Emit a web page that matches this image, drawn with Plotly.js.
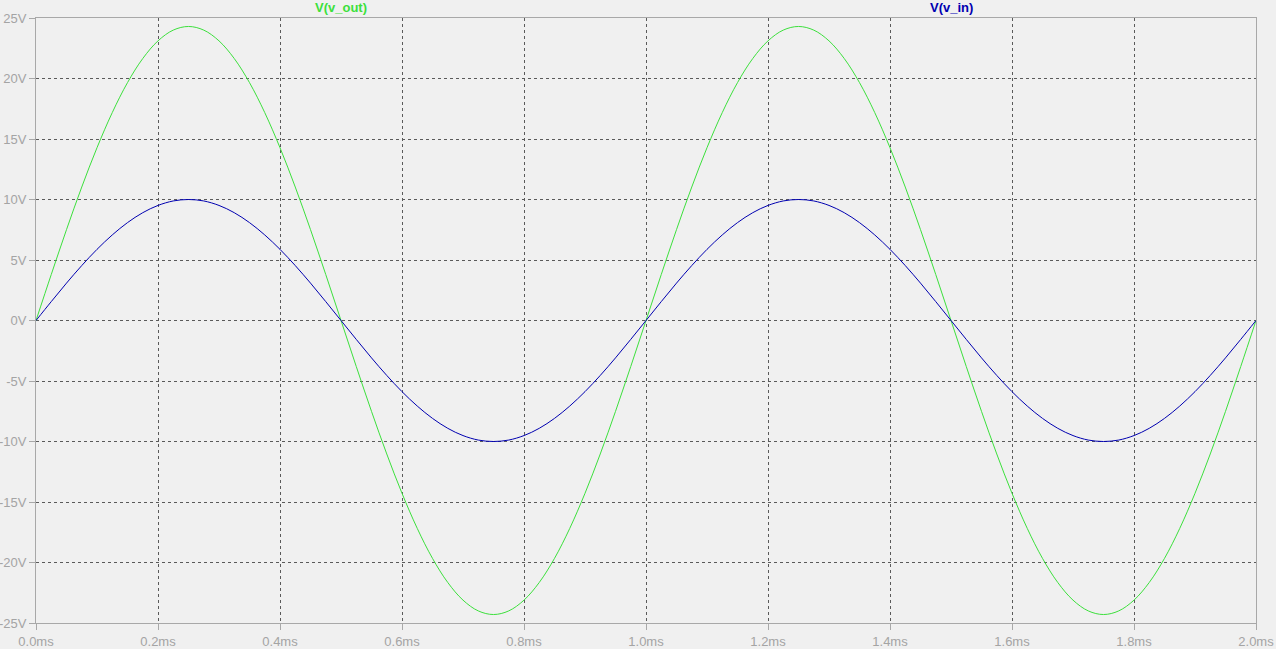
<!DOCTYPE html>
<html>
<head>
<meta charset="utf-8">
<script src="https://cdn.plot.ly/plotly-3.0.1.min.js"></script>
<style>html,body{margin:0;padding:0;background:#f0f0f0;}#chart{width:1276px;height:649px;}</style>
</head>
<body>
<div id="chart"></div>
<script>
// time in ms
const timeMs = [0,0.025,0.05,0.075,0.1,0.125,0.15,0.175,0.2,0.225,0.25,0.275,0.3,0.325,0.35,0.375,0.4,0.425,0.45,0.475,
0.5,0.525,0.55,0.575,0.6,0.625,0.65,0.675,0.7,0.725,0.75,0.775,0.8,0.825,0.85,0.875,0.9,0.925,0.95,0.975,
1.0,1.025,1.05,1.075,1.1,1.125,1.15,1.175,1.2,1.225,1.25,1.275,1.3,1.325,1.35,1.375,1.4,1.425,1.45,1.475,
1.5,1.525,1.55,1.575,1.6,1.625,1.65,1.675,1.7,1.725,1.75,1.775,1.8,1.825,1.85,1.875,1.9,1.925,1.95,1.975,2.0];

const vIn = [0,1.56,3.09,4.54,5.88,7.07,8.09,8.91,9.51,9.88,10,9.88,9.51,8.91,8.09,7.07,5.88,4.54,3.09,1.56,
0,-1.56,-3.09,-4.54,-5.88,-7.07,-8.09,-8.91,-9.51,-9.88,-10,-9.88,-9.51,-8.91,-8.09,-7.07,-5.88,-4.54,-3.09,-1.56,
0,1.56,3.09,4.54,5.88,7.07,8.09,8.91,9.51,9.88,10,9.88,9.51,8.91,8.09,7.07,5.88,4.54,3.09,1.56,
0,-1.56,-3.09,-4.54,-5.88,-7.07,-8.09,-8.91,-9.51,-9.88,-10,-9.88,-9.51,-8.91,-8.09,-7.07,-5.88,-4.54,-3.09,-1.56,0];

const vOut = [0,3.80,7.51,11.03,14.28,17.18,19.66,21.65,23.11,24.00,24.3,24.00,23.11,21.65,19.66,17.18,14.28,11.03,7.51,3.80,
0,-3.80,-7.51,-11.03,-14.28,-17.18,-19.66,-21.65,-23.11,-24.00,-24.3,-24.00,-23.11,-21.65,-19.66,-17.18,-14.28,-11.03,-7.51,-3.80,
0,3.80,7.51,11.03,14.28,17.18,19.66,21.65,23.11,24.00,24.3,24.00,23.11,21.65,19.66,17.18,14.28,11.03,7.51,3.80,
0,-3.80,-7.51,-11.03,-14.28,-17.18,-19.66,-21.65,-23.11,-24.00,-24.3,-24.00,-23.11,-21.65,-19.66,-17.18,-14.28,-11.03,-7.51,-3.80,0];

const yTickVals = [-25,-20,-15,-10,-5,0,5,10,15,20,25];
const yTickText = ["-25V","-20V","-15V","-10V","-5V","0V","5V","10V","15V","20V","25V"];
const xTickVals = [0,0.2,0.4,0.6,0.8,1.0,1.2,1.4,1.6,1.8,2.0];
const xTickText = ["0.0ms","0.2ms","0.4ms","0.6ms","0.8ms","1.0ms","1.2ms","1.4ms","1.6ms","1.8ms","2.0ms"];

const seriesNames = ["V(v_out)","V(v_in)"];
const seriesLabelX = [0.5, 1.5];
const colors = ["#3ce03c","#0000b0"];

const traces = [
  {x: timeMs, y: vOut, type:'scatter', mode:'lines', name: seriesNames[0], line:{color:colors[0], width:1, shape:'spline'}},
  {x: timeMs, y: vIn, type:'scatter', mode:'lines', name: seriesNames[1], line:{color:colors[1], width:1, shape:'spline'}}
];

const tickFont = {family:'Liberation Sans, Arial, sans-serif', size:13, color:'#a4a4a4'};
const axisCommon = {
  showline:true, mirror:true, linecolor:'#a8a8a8', linewidth:1,
  showgrid:true, gridcolor:'#5a5a5a', gridwidth:1, griddash:'3px,3px',
  zeroline:false, ticks:'outside', ticklen:6, tickcolor:'#a8a8a8', tickwidth:1,
  tickfont: tickFont, fixedrange:true
};

const layout = {
  width:1276, height:649,
  paper_bgcolor:'#f0f0f0', plot_bgcolor:'#f0f0f0',
  margin:{l:36, r:20, t:18, b:26},
  showlegend:false,
  xaxis: Object.assign({}, axisCommon, {range:[0,2], tickmode:'array', tickvals:xTickVals, ticktext:xTickText}),
  yaxis: Object.assign({}, axisCommon, {range:[-25,25], tickmode:'array', tickvals:yTickVals, ticktext:yTickText}),
  annotations: seriesNames.map((n,i)=>({
    text:'<b>'+n+'</b>', x:seriesLabelX[i], xref:'x', y:1, yref:'paper', yanchor:'bottom', yshift:1,
    showarrow:false, font:{family:'Liberation Sans, Arial, sans-serif', size:13, color:colors[i]}
  }))
};

Plotly.newPlot('chart', traces, layout, {staticPlot:true, displayModeBar:false});
</script>
</body>
</html>
